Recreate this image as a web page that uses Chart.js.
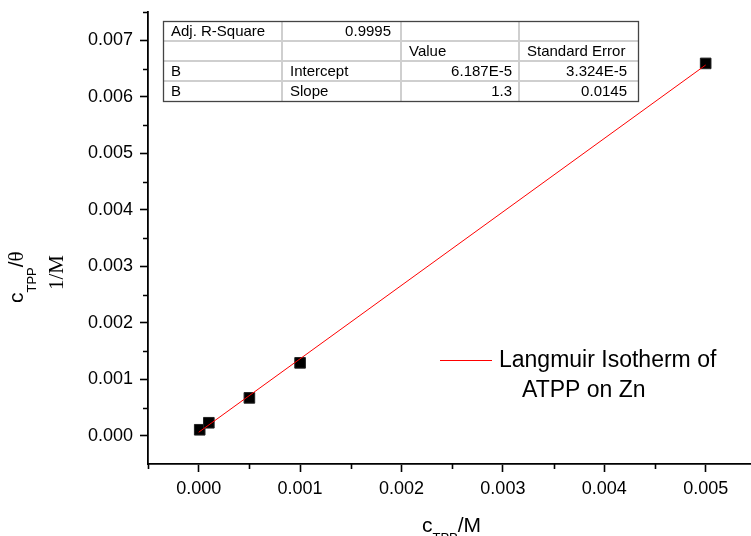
<!DOCTYPE html>
<html>
<head>
<meta charset="utf-8">
<script src="https://cdn.jsdelivr.net/npm/chart.js@4.4.1/dist/chart.umd.min.js"></script>
<style>
    html, body { margin: 0; padding: 0; background: #fff; }
    #wrap { width: 751px; height: 536px; }
</style>
</head>
<body>
<div id="wrap"><canvas id="isotherm"></canvas></div>
<script>
// measured points, c_TPP (M) vs c_TPP/theta (M)
const concentration = [0.00001, 0.0001, 0.0005, 0.001, 0.005];
const ratio = [0.000106, 0.00023, 0.00067, 0.00129, 0.00659];

// linear fit line ends
const fitX = [0, 0.005];
const fitY = [0.0000619, 0.0065619];

const xTickValues = [0, 0.001, 0.002, 0.003, 0.004, 0.005];
const xTickLabels = ['0.000', '0.001', '0.002', '0.003', '0.004', '0.005'];
const xMinorValues = [-0.0005, 0.0005, 0.0015, 0.0025, 0.0035, 0.0045];

const yTickValues = [0, 0.001, 0.002, 0.003, 0.004, 0.005, 0.006, 0.007];
const yTickLabels = ['0.000', '0.001', '0.002', '0.003', '0.004', '0.005', '0.006', '0.007'];
const yMinorValues = [0.0005, 0.0015, 0.0025, 0.0035, 0.0045, 0.0055, 0.0065, 0.0075];

const fitTable = [
    ['Adj. R-Square', '0.9995', '', ''],
    ['', '', 'Value', 'Standard Error'],
    ['B', 'Intercept', '6.187E-5', '3.324E-5'],
    ['B', 'Slope', '1.3', '0.0145'],
];
const legendLines = ['Langmuir Isotherm of', 'ATPP on Zn'];

const SANS = 'Arial, "Liberation Sans", sans-serif';
const SERIF = '"Times New Roman", "Liberation Serif", serif';

const pts = concentration.map((c, i) => ({ x: c, y: ratio[i] }));
const fitPts = fitX.map((c, i) => ({ x: c, y: fitY[i] }));

const extras = {
    id: 'extras',
    afterDraw(chart) {
        const ctx = chart.ctx;
        const xs = chart.scales.x;
        const ys = chart.scales.y;
        ctx.save();

        // minor ticks
        ctx.strokeStyle = '#000';
        ctx.lineWidth = 1.6;
        ctx.beginPath();
        xMinorValues.forEach(v => {
            const px = Math.round(xs.getPixelForValue(v)) + 0.5;
            ctx.moveTo(px, xs.top);
            ctx.lineTo(px, xs.top + 5);
        });
        yMinorValues.forEach(v => {
            const py = Math.round(ys.getPixelForValue(v)) + 0.5;
            ctx.moveTo(ys.right, py);
            ctx.lineTo(ys.right - 5, py);
        });
        ctx.stroke();

        // y title (rotated)
        ctx.save();
        ctx.rotate(-Math.PI / 2);
        ctx.fillStyle = '#000';
        ctx.textBaseline = 'alphabetic';
        ctx.textAlign = 'left';
        let u = -303;
        ctx.font = '21px ' + SANS;
        ctx.fillText('c', u, 23);
        u += ctx.measureText('c').width;
        ctx.font = '13px ' + SANS;
        ctx.fillText('TPP', u, 36);
        u += ctx.measureText('TPP').width;
        ctx.font = '21px ' + SANS;
        ctx.fillText('/', u, 23);
        u += ctx.measureText('/').width;
        ctx.font = '21px ' + SERIF;
        ctx.fillText('\u03b8', u, 23);
        ctx.fillText('1/M', -290, 63);
        ctx.restore();

        // x title
        let px = 422;
        ctx.fillStyle = '#000';
        ctx.font = '21px ' + SANS;
        ctx.fillText('c', px, 532);
        px += ctx.measureText('c').width;
        ctx.font = '13px ' + SANS;
        ctx.fillText('TPP', px, 542);
        px += ctx.measureText('TPP').width;
        ctx.font = '21px ' + SANS;
        ctx.fillText('/M', px, 532);

        // legend
        ctx.strokeStyle = '#ff0000';
        ctx.lineWidth = 1;
        ctx.beginPath();
        ctx.moveTo(440, 360.5);
        ctx.lineTo(492, 360.5);
        ctx.stroke();
        ctx.font = '23px ' + SANS;
        ctx.fillText(legendLines[0], 499, 367);
        ctx.fillText(legendLines[1], 522, 397);

        // fit table
        const colX = [163, 282, 401, 519, 638];
        const rowY = [21, 41, 61, 81, 101];
        ctx.fillStyle = '#fff';
        ctx.fillRect(colX[0], rowY[0], colX[4] - colX[0], rowY[4] - rowY[0]);
        ctx.strokeStyle = '#cfcfcf';
        ctx.lineWidth = 2;
        ctx.beginPath();
        for (let i = 1; i < 4; i++) {
            ctx.moveTo(colX[i], rowY[0]);
            ctx.lineTo(colX[i], rowY[4]);
            ctx.moveTo(colX[0], rowY[i]);
            ctx.lineTo(colX[4], rowY[i]);
        }
        ctx.stroke();
        ctx.strokeStyle = '#444';
        ctx.lineWidth = 1.3;
        ctx.strokeRect(colX[0] + 0.5, rowY[0] + 0.5, colX[4] - colX[0], rowY[4] - rowY[0]);
        ctx.fillStyle = '#000';
        ctx.font = '15px ' + SANS;
        const rightPad = [10, 10, 7, 11];
        fitTable.forEach((row, r) => {
            row.forEach((txt, c) => {
                if (!txt) return;
                const isNum = /^[0-9.E-]+$/.test(txt);
                const base = rowY[r] + 15;
                if (isNum) {
                    ctx.textAlign = 'right';
                    ctx.fillText(txt, colX[c + 1] - rightPad[c], base);
                } else {
                    ctx.textAlign = 'left';
                    ctx.fillText(txt, colX[c] + 8, base);
                }
            });
        });
        ctx.restore();
    }
};

new Chart(document.getElementById('isotherm'), {
    type: 'scatter',
    data: {
        datasets: [
            {
                type: 'line',
                label: 'Langmuir Isotherm of ATPP on Zn',
                data: fitPts,
                borderColor: '#ff0000',
                borderWidth: 1,
                pointRadius: 0,
                fill: false,
                tension: 0,
                order: 0,
            },
            {
                label: 'data',
                data: pts,
                pointStyle: 'rect',
                pointRadius: 7.5,
                backgroundColor: '#000',
                borderColor: '#222',
                borderWidth: 1,
                order: 1,
            },
        ],
    },
    options: {
        responsive: true,
        maintainAspectRatio: false,
        animation: false,
        layout: { autoPadding: false, padding: { top: 12, right: 0, left: 0, bottom: 0 } },
        plugins: {
            legend: { display: false },
            tooltip: { enabled: false },
        },
        scales: {
            x: {
                type: 'linear',
                min: -0.0005,
                max: 0.005447,
                afterFit: s => { s.height = 72; s.paddingLeft = 0; s.paddingRight = 0; },
                afterBuildTicks: s => { s.ticks = xTickValues.map(v => ({ value: v })); },
                grid: { drawOnChartArea: false, drawTicks: true, tickLength: 8, tickColor: '#000', tickWidth: 1.6 },
                border: { display: true, color: '#000', width: 1.8 },
                ticks: {
                    padding: 6,
                    color: '#000',
                    maxRotation: 0,
                    font: { family: SANS, size: 18 },
                    callback: (v, i) => xTickLabels[i],
                },
            },
            y: {
                type: 'linear',
                min: -0.0005,
                max: 0.0075,
                afterFit: s => { s.width = 148; s.paddingTop = 0; s.paddingBottom = 0; },
                afterBuildTicks: s => { s.ticks = yTickValues.map(v => ({ value: v })); },
                grid: { drawOnChartArea: false, drawTicks: true, tickLength: 8, tickColor: '#000', tickWidth: 1.6 },
                border: { display: true, color: '#000', width: 1.8 },
                ticks: {
                    padding: 7,
                    color: '#000',
                    font: { family: SANS, size: 18 },
                    callback: (v, i) => yTickLabels[i],
                },
            },
        },
    },
    plugins: [extras],
});
</script>
</body>
</html>
